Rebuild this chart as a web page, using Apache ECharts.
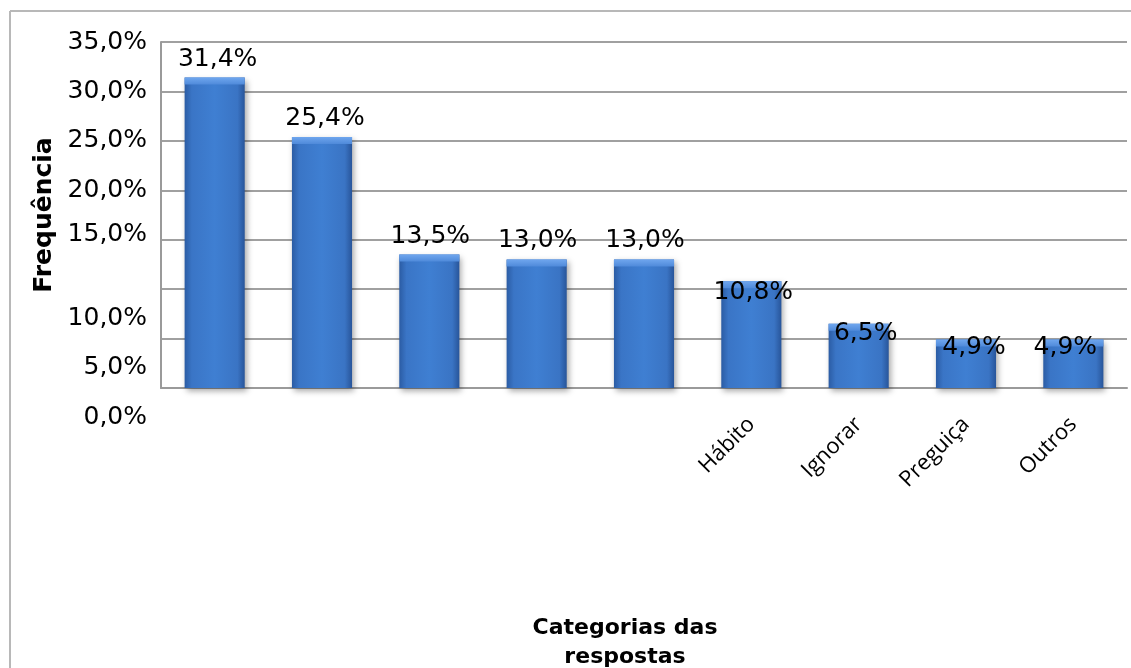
<!DOCTYPE html>
<html>
<head>
<meta charset="utf-8">
<script src="https://cdn.jsdelivr.net/npm/echarts@6/dist/echarts.min.js"></script>
<style>
  html, body { margin: 0; padding: 0; background: #fff; overflow: hidden; }
  #chart { width: 1131px; height: 668px; }
</style>
</head>
<body>
<div id="chart"></div>
<script>
// Categorias (only the last four carry a printed name)
const categories = ['', '', '', '', '', 'Hábito', 'Ignorar', 'Preguiça', 'Outros'];
// Frequência de cada categoria (%)
const frequencies = [31.4, 25.4, 13.5, 13.0, 13.0, 10.8, 6.5, 4.9, 4.9];
// Eixo vertical
const yMin = 0;
const yMax = 35;
const yStep = 5;

const pct = v => v.toFixed(1).replace('.', ',') + '%';

// label nudges for the value labels, by bar index
const labelNudge = i => [[3, 0], [3, 0], [1, 0], [1, 0], [1, 0], [2, 30], [7, 28], [8, 26], [-8, 26]][i];

const chart = echarts.init(document.getElementById('chart'));

const barBody = {
  type: 'linear', x: 0, y: 0, x2: 1, y2: 0,
  colorStops: [
    { offset: 0, color: '#2b5ca4' },
    { offset: 0.12, color: '#3a75c6' },
    { offset: 0.5, color: '#3f7fd2' },
    { offset: 0.88, color: '#3a74c4' },
    { offset: 1, color: '#28559a' }
  ]
};
const barCap = {
  type: 'linear', x: 0, y: 0, x2: 0, y2: 1,
  colorStops: [
    { offset: 0, color: '#6fa6ee' },
    { offset: 1, color: '#4f8ada' }
  ]
};

const txt = { fontFamily: 'DejaVu Sans', fontSize: 25, color: '#000' };

chart.setOption({
  animation: false,
  backgroundColor: '#fff',
  grid: {
    left: 161, right: 4, top: 42, bottom: 280,
    containLabel: false, outerBoundsMode: 'none'
  },
  graphic: [
    {
      type: 'line', silent: true, z: -1,
      shape: { x1: 10, y1: 11, x2: 1131, y2: 11 },
      style: { stroke: '#b8b8b8', lineWidth: 2 }
    },
    {
      type: 'line', silent: true, z: -1,
      shape: { x1: 10, y1: 11, x2: 10, y2: 668 },
      style: { stroke: '#b8b8b8', lineWidth: 2 }
    }
  ],
  xAxis: {
    type: 'category',
    data: categories,
    axisTick: { show: false },
    axisLine: { lineStyle: { color: '#9a9a9a', width: 2 } },
    axisLabel: {
      interval: 0, rotate: 45, margin: 33,
      fontFamily: 'Open Sans', fontSize: 22, color: '#000'
    },
    name: 'Categorias das\nrespostas',
    nameLocation: 'middle',
    nameGap: 226,
    nameTextStyle: {
      fontFamily: 'DejaVu Sans', fontWeight: 'bold', fontSize: 22,
      color: '#000', lineHeight: 29, padding: [0, 38, 0, 0]
    }
  },
  yAxis: {
    type: 'value',
    min: yMin, max: yMax, interval: yStep,
    axisLine: { show: true, lineStyle: { color: '#9a9a9a', width: 2 } },
    axisTick: { show: false },
    splitLine: { lineStyle: { color: '#a0a0a0', width: 2 } },
    axisLabel: {
      margin: 14,
      formatter: v => {
        if (v <= 10) return '{lo|' + pct(v) + '}';
        if (v === 15) return '{mid|' + pct(v) + '}';
        return '{n|' + pct(v) + '}';
      },
      rich: {
        n: Object.assign({}, txt),
        lo: Object.assign({ padding: [58, 0, 0, 0] }, txt),
        mid: Object.assign({ padding: [0, 0, 10, 0] }, txt)
      }
    },
    name: 'Frequência',
    nameLocation: 'middle',
    nameGap: 101,
    nameTextStyle: {
      fontFamily: 'DejaVu Sans', fontWeight: 'bold', fontSize: 25, color: '#000'
    }
  },
  series: [
    {
      type: 'bar',
      data: frequencies,
      barWidth: '56%',
      z: 2,
      itemStyle: {
        color: barBody,
        shadowColor: 'rgba(0,0,0,0.35)',
        shadowBlur: 6, shadowOffsetX: 2, shadowOffsetY: 3
      }
    },
    {
      type: 'pictorialBar',
      data: frequencies.map((v, i) => ({
        value: v,
        label: { offset: labelNudge(i) }
      })),
      barWidth: '56%',
      symbol: 'rect',
      symbolSize: ['100%', 7],
      symbolPosition: 'end',
      symbolOffset: [0, 0],
      z: 3,
      itemStyle: { color: barCap },
      label: Object.assign({
        show: true, position: 'top', distance: 6,
        formatter: p => pct(p.value)
      }, txt)
    }
  ]
});
</script>
</body>
</html>
